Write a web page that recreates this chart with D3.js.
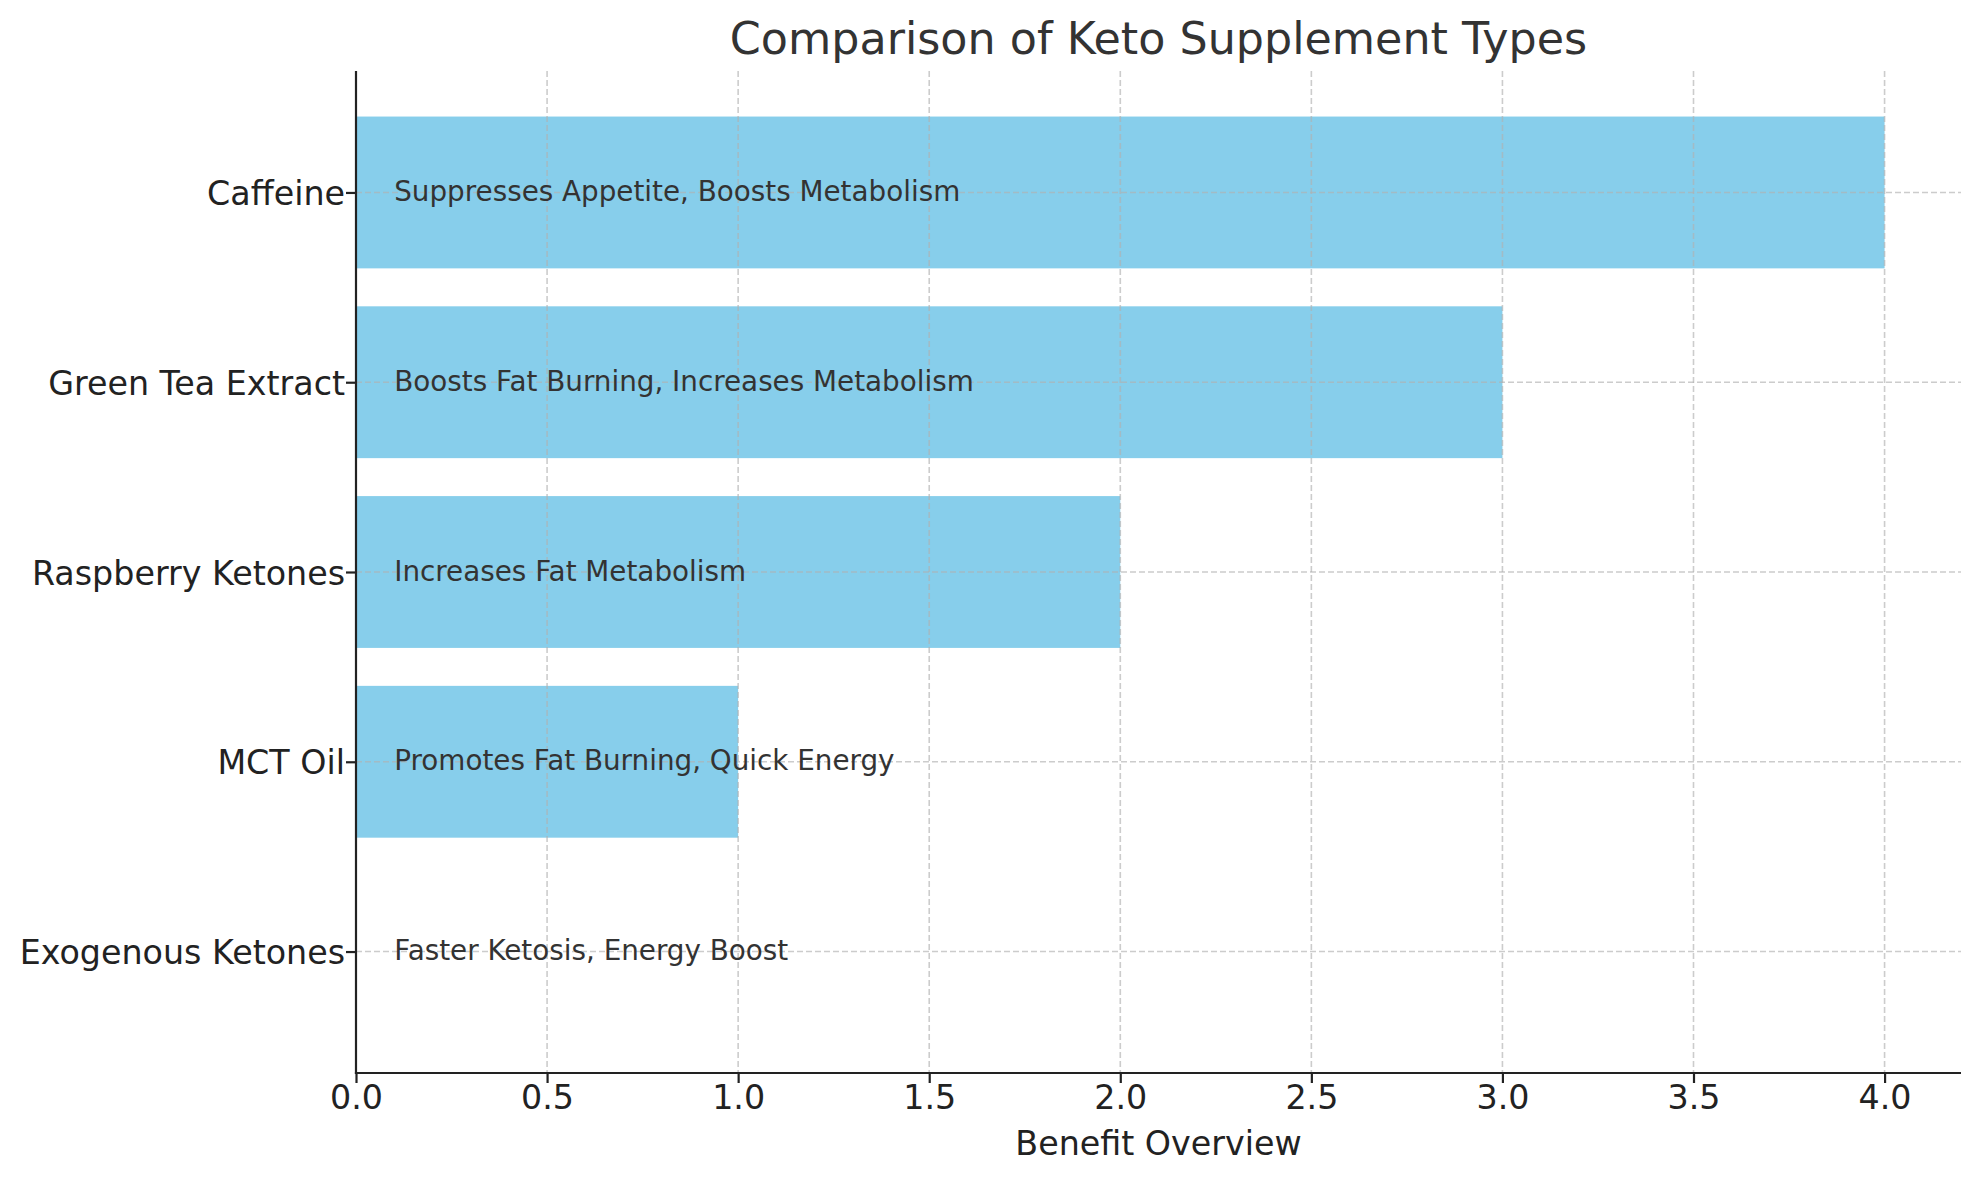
<!DOCTYPE html>
<html>
<head>
<meta charset="utf-8">
<script src="https://cdn.jsdelivr.net/npm/d3@7"></script>
<style>
  html, body { margin: 0; padding: 0; background: #ffffff; }
  svg { display: block; font-family: "DejaVu Sans", sans-serif; }
</style>
</head>
<body>
<svg id="chart" width="1979" height="1180"></svg>
<script>
// ---- data ----
const categories = ["Exogenous Ketones", "MCT Oil", "Raspberry Ketones", "Green Tea Extract", "Caffeine"];
const scores = [0, 1, 2, 3, 4];
const benefits = [
  "Faster Ketosis, Energy Boost",
  "Promotes Fat Burning, Quick Energy",
  "Increases Fat Metabolism",
  "Boosts Fat Burning, Increases Metabolism",
  "Suppresses Appetite, Boosts Metabolism"
];
const xTicks = [0, 0.5, 1, 1.5, 2, 2.5, 3, 3.5, 4];
const titleText = "Comparison of Keto Supplement Types";
const xLabel = "Benefit Overview";

(function () {
// ---- layout ----
const pLeft = 356, pRight = 1961, pTop = 71, pBottom = 1073;
const barH = 0.8;
const n = categories.length;

const svg = d3.select("#chart");
const x = d3.scaleLinear().domain([0, d3.max(scores) * 1.05]).range([pLeft, pRight]);
const yPad = (n - 1 + barH) * 0.05;
const y = d3.scaleLinear().domain([-barH / 2 - yPad, n - 1 + barH / 2 + yPad]).range([pBottom, pTop]);

const rows = categories.map((c, i) => ({ c, i, v: scores[i], t: benefits[i] }));

// bars
svg.append("g").selectAll("rect").data(rows).join("rect")
  .attr("x", x(0))
  .attr("y", d => y(d.i + barH / 2))
  .attr("width", d => x(d.v) - x(0))
  .attr("height", d => y(d.i - barH / 2) - y(d.i + barH / 2))
  .attr("fill", "#87ceeb");

// grid
const grid = svg.append("g")
  .attr("stroke", "#b0b0b0").attr("stroke-opacity", 0.65)
  .attr("stroke-width", 1.6).attr("stroke-dasharray", "6,3");
grid.selectAll("line.v").data(xTicks).join("line").attr("class", "v")
  .attr("x1", d => x(d)).attr("x2", d => x(d)).attr("y1", pTop).attr("y2", pBottom);
grid.selectAll("line.h").data(rows).join("line").attr("class", "h")
  .attr("x1", pLeft).attr("x2", pRight).attr("y1", d => y(d.i)).attr("y2", d => y(d.i));

// annotations
svg.append("g").selectAll("text").data(rows).join("text")
  .attr("x", x(0.1))
  .attr("y", d => y(d.i) + 8.5)
  .attr("font-size", 27.8)
  .attr("fill", "#333333")
  .text(d => d.t);

// x axis
const xAxis = d3.axisBottom(x).tickValues(xTicks).tickFormat(d3.format(".1f")).tickSize(10).tickPadding(8);
const gx = svg.append("g").attr("transform", `translate(0,${pBottom})`).call(xAxis);
gx.select(".domain").remove();
gx.selectAll(".tick line").attr("stroke", "#222").attr("stroke-width", 2.2);
gx.selectAll(".tick text").attr("font-size", 33.3).attr("fill", "#222")
  .attr("font-family", "DejaVu Sans").attr("dy", null).attr("y", 36);

// y axis
const yAxis = d3.axisLeft(y).tickValues(rows.map(d => d.i)).tickFormat(i => categories[i]).tickSize(10).tickPadding(1);
const gy = svg.append("g").attr("transform", `translate(${pLeft},0)`).call(yAxis);
gy.select(".domain").remove();
gy.selectAll(".tick line").attr("stroke", "#222").attr("stroke-width", 2.2);
gy.selectAll(".tick text").attr("font-size", 33.3).attr("fill", "#222")
  .attr("font-family", "DejaVu Sans").attr("dy", null).attr("y", 12);

// spines (left, bottom)
svg.append("line").attr("x1", pLeft).attr("x2", pLeft).attr("y1", pTop).attr("y2", pBottom + 1.1)
  .attr("stroke", "#222").attr("stroke-width", 2.2);
svg.append("line").attr("x1", pLeft - 1.1).attr("x2", pRight).attr("y1", pBottom).attr("y2", pBottom)
  .attr("stroke", "#222").attr("stroke-width", 2.2);

// x label
svg.append("text").attr("x", (pLeft + pRight) / 2).attr("y", 1155)
  .attr("text-anchor", "middle").attr("font-size", 33.3).attr("fill", "#222").text(xLabel);

// title
svg.append("text").attr("x", (pLeft + pRight) / 2).attr("y", 54)
  .attr("text-anchor", "middle").attr("font-size", 44.4).attr("fill", "#333333").text(titleText);
})();
</script>
</body>
</html>
